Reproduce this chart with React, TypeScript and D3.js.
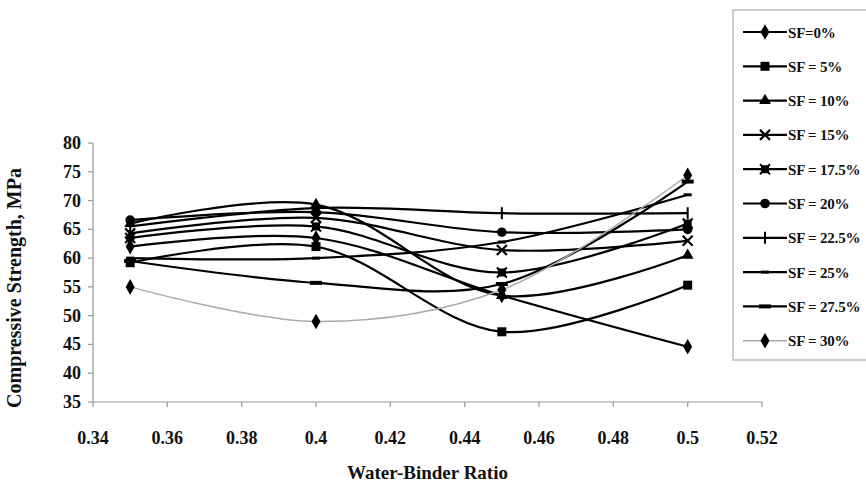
import React from "react";
import * as d3 from "d3";

const ratios = [0.35, 0.4, 0.45, 0.5];
const seriesNames = ["SF=0%", "SF = 5%", "SF = 10%", "SF = 15%", "SF = 17.5%", "SF = 20%", "SF = 22.5%", "SF = 25%", "SF = 27.5%", "SF = 30%"];
const sf0 = [62, 63.5, 53.5, 44.6];
const sf5 = [59.2, 62, 47.2, 55.3];
const sf10 = [66, 69.3, 53.5, 60.5];
const sf15 = [64.3, 67, 61.4, 63];
const sf175 = [63.5, 65.5, 57.5, 66];
const sf20 = [66.6, 68, 64.5, 65];
const sf225 = [65.5, 68.7, 67.8, 67.8];
const sf25 = [60, 60, 62.8, 71];
const sf275 = [59.5, 55.7, 55.5, 73.3];
const sf30 = [55, 49, 54.5, 74.4];
const seriesValues = [sf0, sf5, sf10, sf15, sf175, sf20, sf225, sf25, sf275, sf30];
const markerKinds = ["diamond", "square", "triangle", "x", "xsquare", "circle", "plus", "dash", "bigdash", "diamond"];
const xTicks = [0.34, 0.36, 0.38, 0.4, 0.42, 0.44, 0.46, 0.48, 0.5, 0.52];
const yTicks = [35, 40, 45, 50, 55, 60, 65, 70, 75, 80];

const FONT = "'Liberation Serif', 'Times New Roman', serif";

function Marker({ kind, x, y }: { kind: string; x: number; y: number }) {
  switch (kind) {
    case "diamond":
      return <path d={d3.symbol(d3.symbolDiamond, 70)()!} transform={`translate(${x},${y})`} fill="#000" />;
    case "square":
      return <rect x={x - 4.5} y={y - 4.5} width={9} height={9} fill="#000" />;
    case "triangle":
      return <path d={d3.symbol(d3.symbolTriangle, 60)()!} transform={`translate(${x},${y})`} fill="#000" />;
    case "x":
      return (
        <g stroke="#000" strokeWidth={2.2}>
          <line x1={x - 5} y1={y - 5} x2={x + 5} y2={y + 5} />
          <line x1={x - 5} y1={y + 5} x2={x + 5} y2={y - 5} />
        </g>
      );
    case "xsquare":
      return (
        <g stroke="#000" strokeWidth={2}>
          <rect x={x - 3} y={y - 3} width={6} height={6} fill="#000" />
          <line x1={x - 5} y1={y - 5} x2={x + 5} y2={y + 5} />
          <line x1={x - 5} y1={y + 5} x2={x + 5} y2={y - 5} />
        </g>
      );
    case "circle":
      return <circle cx={x} cy={y} r={4.8} fill="#000" />;
    case "plus":
      return <line x1={x} y1={y - 6} x2={x} y2={y + 6} stroke="#000" strokeWidth={2} />;
    case "dash":
      return <line x1={x - 4} y1={y} x2={x + 4} y2={y} stroke="#000" strokeWidth={3} />;
    case "bigdash":
      return <line x1={x - 6} y1={y} x2={x + 6} y2={y} stroke="#000" strokeWidth={4} />;
    default:
      return null;
  }
}

export default function App() {
  const W = 866;
  const H = 486;
  const x = d3.scaleLinear().domain([0.34, 0.52]).range([93, 762]);
  const y = d3.scaleLinear().domain([35, 80]).range([402, 143]);
  const line = d3
    .line<number>()
    .x((_, i) => x(ratios[i]))
    .y((d) => y(d))
    .curve(d3.curveCatmullRom.alpha(0.5));

  const legendX = 733;
  const legendY = 10;
  const rowH = 34.3;

  return (
    <svg width={W} height={H} style={{ position: "absolute", left: 0, top: 0, background: "#fff" }} fontFamily={FONT}>
      <rect x={0} y={0} width={W} height={H} fill="#fff" />
      {/* axes */}
      <line x1={x(0.34)} y1={y(35)} x2={x(0.52)} y2={y(35)} stroke="#999" strokeWidth={1.2} />
      <line x1={x(0.34)} y1={y(35)} x2={x(0.34)} y2={y(80)} stroke="#999" strokeWidth={1.2} />
      {xTicks.map((t) => (
        <g key={"xt" + t}>
          <line x1={x(t)} x2={x(t)} y1={y(35)} y2={y(35) + 5} stroke="#999" strokeWidth={1.2} />
          <text x={x(t)} y={444} textAnchor="middle" fontSize={18} fontWeight="bold" fill="#111">
            {String(t)}
          </text>
        </g>
      ))}
      {yTicks.map((t) => (
        <g key={"yt" + t}>
          <line x1={x(0.34) - 5} x2={x(0.34)} y1={y(t)} y2={y(t)} stroke="#999" strokeWidth={1.2} />
          <text x={81} y={y(t) + 6} textAnchor="end" fontSize={18} fontWeight="bold" fill="#111">
            {t}
          </text>
        </g>
      ))}
      <text x={(x(0.34) + x(0.52)) / 2} y={479} textAnchor="middle" fontSize={19} fontWeight="bold" fill="#111">
        Water-Binder Ratio
      </text>
      <text
        transform={`translate(21,288) rotate(-90)`}
        textAnchor="middle"
        fontSize={20}
        fontWeight="bold"
        fill="#111"
      >
        Compressive Strength, MPa
      </text>

      {/* series */}
      {seriesValues.map((vals, si) => (
        <path
          key={"l" + si}
          d={line(vals)!}
          fill="none"
          stroke={si === 9 ? "#aaa" : "#000"}
          strokeWidth={si === 9 ? 1.5 : 2.2}
        />
      ))}
      {seriesValues.map((vals, si) =>
        vals.map((v, i) => <Marker key={`m${si}-${i}`} kind={markerKinds[si]} x={x(ratios[i])} y={y(v)} />)
      )}

      {/* legend */}
      <rect x={legendX} y={legendY} width={150} height={350} fill="#fff" stroke="#999" strokeWidth={1} />
      {seriesNames.map((name, i) => {
        const cy = legendY + 22 + i * rowH;
        return (
          <g key={"lg" + i}>
            <line x1={743} x2={787} y1={cy} y2={cy} stroke={i === 9 ? "#aaa" : "#000"} strokeWidth={i === 9 ? 1.5 : 2.2} />
            <Marker kind={markerKinds[i]} x={765} y={cy} />
            <text x={788} y={cy + 5.5} fontSize={15} fontWeight="bold" fill="#111" letterSpacing={-0.2}>
              {name}
            </text>
          </g>
        );
      })}
    </svg>
  );
}
